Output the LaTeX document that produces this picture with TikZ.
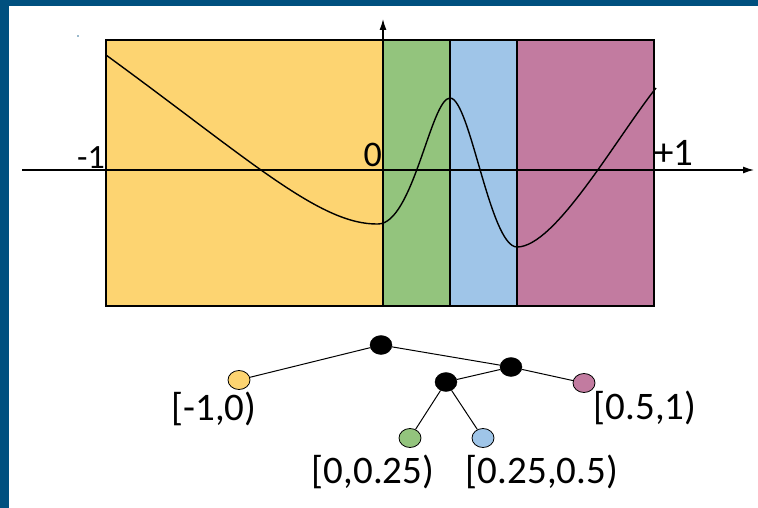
\documentclass[tikz,border=0pt]{standalone}
\usepackage{fontspec}
\setmainfont{Carlito}
\usetikzlibrary{shapes.geometric,arrows.meta}
\definecolor{frameblue}{HTML}{00507F}
\definecolor{cyel}{HTML}{FDD471}
\definecolor{cgrn}{HTML}{93C47D}
\definecolor{cblu}{HTML}{9FC5E8}
\definecolor{cpnk}{HTML}{C27BA0}
\tikzset{
  band/.style={draw=black,line width=1.5pt},
  axisline/.style={line width=1.3pt,-{Latex[length=11pt,width=7pt]}},
  leaf/.style={ellipse,draw=black,line width=0.8pt,minimum width=22pt,minimum height=19pt,inner sep=0pt},
  inner/.style={ellipse,draw=black,fill=black,minimum width=22pt,minimum height=19pt,inner sep=0pt},
  edge/.style={line width=1pt},
  lbl/.style={inner sep=0pt,font=\fontsize{39}{42}\selectfont},
}
\begin{document}
\begin{tikzpicture}[x=1pt,y=-1pt]
\useasboundingbox (0,0) rectangle (758,508);
\fill[white] (0,0) rectangle (758,508);
\fill[frameblue] (0,0) rectangle (758,6);
\fill[frameblue] (0,0) rectangle (8.7,508);
\fill[frameblue!80] (78,36) circle (0.9);
% bands
\fill[cyel] (106,40) rectangle (383,306);
\fill[cgrn] (383,40) rectangle (450,306);
\fill[cblu] (450,40) rectangle (517,306);
\fill[cpnk] (517,40) rectangle (654,306);
\draw[band] (106,40) rectangle (654,306);
\draw[band] (450,40) -- (450,306);
\draw[band] (517,40) -- (517,306);
% axes
\coordinate (xs) at (22,170);
\coordinate (xe) at (754,170);
\coordinate (ys) at (383,306);
\coordinate (ye) at (383,19);
\draw[axisline] (xs) -- (xe);
\draw[axisline] (ys) -- (ye);
% axis labels
\node[lbl,anchor=base east,font=\fontsize{34}{36}\selectfont] (lm1) at (105,168) {-1};
\node[lbl,anchor=base east,font=\fontsize{36}{38}\selectfont] (l0) at (382,167) {0};
\node[lbl,anchor=base west,font=\fontsize{39}{40}\selectfont] (lp1) at (654,166) {+1};
% curve
\draw[line width=1.4pt] (106,55) .. controls (250,160) and (320,225) .. (378,224)
  .. controls (413,224) and (431,98) .. (450,98)
  .. controls (470,98) and (490,247) .. (517,247)
  .. controls (555,247) and (615,140) .. (656,88);
% tree
\node[inner] (root) at (381,345) {};
\node[leaf,fill=cyel] (ly) at (239,380) {};
\node[inner] (nr) at (511,367) {};
\node[inner] (nm) at (446,382) {};
\node[leaf,fill=cpnk] (lp) at (584,383) {};
\node[leaf,fill=cgrn] (lg) at (410,438) {};
\node[leaf,fill=cblu] (lb) at (483,438) {};
\draw[edge] (root) -- (ly);
\draw[edge] (root) -- (nr);
\draw[edge] (nr) -- (nm);
\draw[edge] (nr) -- (lp);
\draw[edge] (nm) -- (lg);
\draw[edge] (nm) -- (lb);
\node[lbl] (ty) at (214,409) {[-1,0)};
\node[lbl] (tp) at (645,408) {[0.5,1)};
\node[lbl] (tg) at (373,472) {[0,0.25)};
\node[lbl] (tb) at (542,472) {[0.25,0.5)};
\end{tikzpicture}
\end{document}
